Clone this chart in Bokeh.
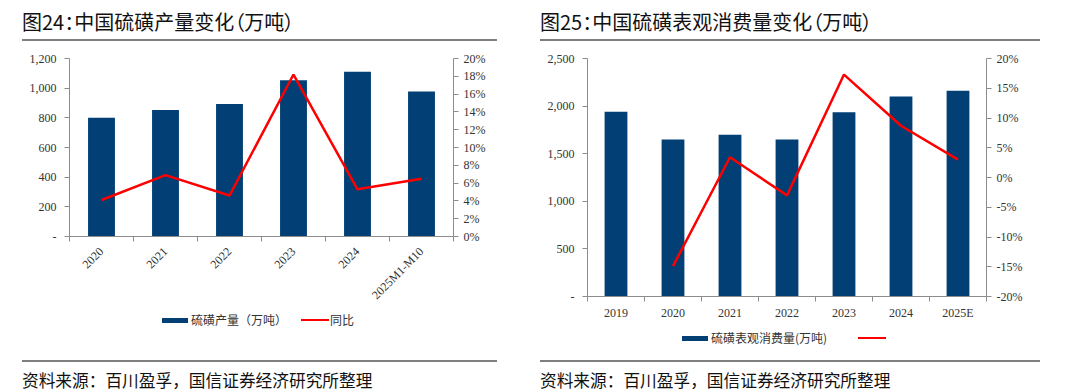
import math
from bokeh.plotting import figure
from bokeh.models import (Range1d, LinearAxis, FixedTicker, NumeralTickFormatter,
                          PrintfTickFormatter, Div)
from bokeh.layouts import row, column
from bokeh.embed import file_html
from bokeh.resources import INLINE

# ---------------- data ----------------
prod_categories = ["2020", "2021", "2022", "2023", "2024", "2025M1-M10"]
prod_values = [800, 853, 893, 1053, 1110, 978]          # 万吨
prod_yoy = [4.1, 6.9, 4.6, 18.2, 5.3, 6.5]              # %

cons_categories = ["2019", "2020", "2021", "2022", "2023", "2024", "2025E"]
cons_values = [1940, 1650, 1700, 1650, 1935, 2100, 2160]  # 万吨
cons_yoy = [float("nan"), -14.9, 3.4, -3.0, 17.3, 8.7, 3.0]  # %

prod_y_ticks = [0, 200, 400, 600, 800, 1000, 1200]
prod_pct_ticks = [0, 2, 4, 6, 8, 10, 12, 14, 16, 18, 20]
cons_y_ticks = [0, 500, 1000, 1500, 2000, 2500]
cons_pct_ticks = [-20, -15, -10, -5, 0, 5, 10, 15, 20]

title1 = "图24：中国硫磺产量变化（万吨）"
title2 = "图25：中国硫磺表观消费量变化（万吨）"
source_text = "资料来源：百川盈孚，国信证券经济研究所整理"
legend1_bar = "硫磺产量（万吨）"
legend1_line = "同比"
legend2_bar = "硫磺表观消费量(万吨)"
legend2_line = ""

NAVY = "#013f74"
RED = "#ff0000"
AXIS = "#8c8c8c"
LABEL = "#333333"
SERIF = "Liberation Serif"
CJK = "Noto Sans CJK SC"


def style_axis(ax, standoff):
    ax.axis_line_color = AXIS
    ax.axis_line_width = 1
    ax.major_tick_line_color = AXIS
    ax.minor_tick_line_color = AXIS
    ax.major_tick_in = 0
    ax.major_tick_out = 5
    ax.minor_tick_in = 0
    ax.minor_tick_out = 0
    ax.major_label_text_font = SERIF
    ax.major_label_text_font_size = "12px"
    ax.major_label_text_color = LABEL
    ax.major_label_standoff = standoff


def make_panel(cats, vals, yoy, y_ticks, pct_ticks, bar_w, width, height,
               borders, rotate, x_standoff):
    n = len(cats)
    idx = list(range(n))
    p = figure(width=width, height=height, output_backend="svg", toolbar_location=None,
               x_range=Range1d(-0.5, n - 0.5), y_range=Range1d(y_ticks[0], y_ticks[-1]),
               min_border_left=borders[0], min_border_right=borders[1],
               min_border_top=borders[2], min_border_bottom=borders[3],
               x_axis_location=None, y_axis_location=None, margin=0)
    p.outline_line_color = None
    p.xgrid.visible = False
    p.ygrid.visible = False
    p.background_fill_color = "white"
    p.border_fill_color = "white"
    p.extra_y_ranges = {"pct": Range1d(pct_ticks[0], pct_ticks[-1])}

    p.vbar(x=idx, top=vals, width=bar_w, fill_color=NAVY, line_color=None)
    p.line(x=idx, y=yoy, y_range_name="pct", line_color=RED, line_width=2.5)

    # x axis: labels at category centres, tick marks at category boundaries
    xa = LinearAxis(ticker=FixedTicker(ticks=idx, minor_ticks=[i - 0.5 for i in range(n + 1)]))
    style_axis(xa, x_standoff)
    xa.major_tick_out = 0
    xa.minor_tick_out = 5
    xa.major_label_overrides = {i: c for i, c in zip(idx, cats)}
    if rotate:
        xa.major_label_orientation = math.pi / 4
    p.add_layout(xa, "below")

    ya = LinearAxis(ticker=FixedTicker(ticks=y_ticks), formatter=NumeralTickFormatter(format="0,0"))
    style_axis(ya, 8)
    ya.major_label_overrides = {y_ticks[0]: "-"}
    p.add_layout(ya, "left")

    ra = LinearAxis(y_range_name="pct", ticker=FixedTicker(ticks=pct_ticks),
                    formatter=PrintfTickFormatter(format="%d%%"))
    style_axis(ra, 5)
    p.add_layout(ra, "right")
    return p


def title_div(text, width, left, rule_w):
    html = (
        f'<div style="position:relative;width:{width}px;height:42px;margin:0;padding:0;">'
        f'<div style="position:absolute;left:{left}px;top:39px;width:{rule_w}px;height:2px;'
        f'background:#7f7f7f;"></div>'
        f'<div style="position:absolute;left:{left}px;top:10px;font-family:\'{CJK}\';font-size:20px;'
        f'line-height:24px;color:#111111;white-space:nowrap;font-feature-settings:\'palt\';">{text}</div>'
        '</div>'
    )
    return Div(text=html, width=width, height=42, margin=0, styles={"overflow": "visible"})


def bottom_div(width, height, left, rule_w, leg_y, bar_x, bar_label, line_x, line_label,
               rule_y, src_y):
    html = (
        f'<div style="position:relative;width:{width}px;height:{height}px;margin:0;padding:0;">'
        # legend: bar swatch + label
        f'<div style="position:absolute;left:{bar_x}px;top:{leg_y - 2.5}px;width:26px;height:5px;'
        f'background:{NAVY};"></div>'
        f'<div style="position:absolute;left:{bar_x + 29}px;top:{leg_y - 9}px;font-family:\'{CJK}\';'
        f'font-size:12px;line-height:18px;color:{LABEL};white-space:nowrap;">{bar_label}</div>'
        # legend: line swatch + label
        f'<div style="position:absolute;left:{line_x}px;top:{leg_y - 1}px;width:28px;height:2px;'
        f'background:{RED};"></div>'
        f'<div style="position:absolute;left:{line_x + 29}px;top:{leg_y - 9}px;font-family:\'{CJK}\';'
        f'font-size:12px;line-height:18px;color:{LABEL};white-space:nowrap;">{line_label}</div>'
        # rule
        f'<div style="position:absolute;left:{left}px;top:{rule_y}px;width:{rule_w}px;height:2px;'
        f'background:#7f7f7f;"></div>'
        # source
        f'<div style="position:absolute;left:{left}px;top:{src_y - 10}px;font-family:\'{CJK}\';'
        f'font-size:16.7px;line-height:20px;color:#111111;white-space:nowrap;">{source_text}</div>'
        '</div>'
    )
    return Div(text=html, width=width, height=height, margin=0, styles={"overflow": "visible"})


# left panel: title 0..42, figure 42..316, bottom block 316..388
p1 = make_panel(prod_categories, prod_values, prod_yoy, prod_y_ticks, prod_pct_ticks,
                0.42, 532, 274, (69, 79, 16, 80), True, 8)
# right panel: title 0..42, figure 42..326, bottom block 326..388
p2 = make_panel(cons_categories, cons_values, cons_yoy, cons_y_ticks, cons_pct_ticks,
                0.40, 540, 284, (55, 86, 16, 30), False, 4)

b1 = bottom_div(532, 72, 22, 475, 4, 162, legend1_bar, 301, legend1_line, 44, 64)
b2 = bottom_div(540, 62, 8, 500, 12, 150, legend2_bar, 326, legend2_line, 34, 54)

col1 = column(title_div(title1, 532, 22, 475), p1, b1, margin=0, spacing=0)
col2 = column(title_div(title2, 540, 8, 500), p2, b2, margin=0, spacing=0)
layout = row(col1, col2, margin=0, spacing=0)

open("out.html", "w").write(file_html(layout, INLINE))
